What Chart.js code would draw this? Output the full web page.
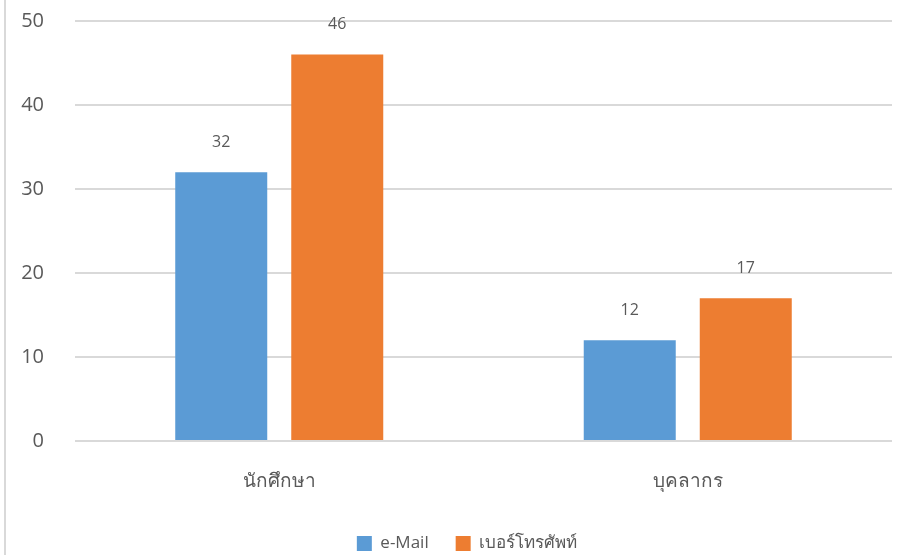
<!DOCTYPE html>
<html>
<head>
<meta charset="utf-8">
<script src="https://cdn.jsdelivr.net/npm/chart.js"></script>
<style>
  html, body { margin: 0; padding: 0; background: #fff; }
  #wrap { position: relative; width: 899px; height: 555px; }
  #edge { position: absolute; left: 4px; top: 0; width: 2px; height: 555px; background: #d9d9d9; }
</style>
</head>
<body>
<div id="wrap">
  <div id="edge"></div>
  <canvas id="myChart" width="899" height="555"></canvas>
</div>

<script>
// -- Chart data
const categories = ['นักศึกษา', 'บุคลากร'];
const email_values = [32, 12];
const phone_values = [46, 17];
const series_names = ['e-Mail', 'เบอร์โทรศัพท์'];
const y_ticks = [0, 10, 20, 30, 40, 50];

const FONT = "'Open Sans', 'Noto Sans', sans-serif";
const TEXT = '#595959';

// -- Value labels above each bar.
const value_labels = {
  id: 'value_labels',
  afterDatasetsDraw(chart) {
    const ctx = chart.ctx;
    ctx.save();
    ctx.font = '16px ' + FONT;
    ctx.fillStyle = TEXT;
    ctx.textAlign = 'center';
    ctx.textBaseline = 'middle';
    chart.data.datasets.forEach((ds, i) => {
      chart.getDatasetMeta(i).data.forEach((bar, j) => {
        ctx.fillText(ds.data[j], bar.x, bar.y - 30);
      });
    });
    ctx.restore();
  }
};

// -- Nudge the legend a bit lower and to the right, like the original.
const legend_nudge = {
  id: 'legend_nudge',
  afterLayout(chart) {
    const l = chart.legend;
    l.top += 7; l.bottom += 7;
    l.left += 21; l.right += 21;
  }
};

const chart = new Chart(
  document.getElementById('myChart'),
  {
    type: 'bar',
    data: {
      labels: categories,
      datasets: [
        { label: series_names[0], data: email_values, backgroundColor: '#5b9bd5' },
        { label: series_names[1], data: phone_values, backgroundColor: '#ed7d31' },
      ],
    },
    options: {
      responsive: false,
      animation: false,
      categoryPercentage: 0.568,
      barPercentage: 0.793,
      layout: { padding: { left: 0, right: 7, top: 21, bottom: 0 } },
      scales: {
        x: {
          grid: { display: false },
          border: { display: false },
          ticks: { color: TEXT, font: { family: FONT, size: 19 }, padding: 21 },
          afterFit: (scale) => { scale.height = 60; },
        },
        y: {
          min: 0,
          max: 50,
          afterBuildTicks: (scale) => { scale.ticks = y_ticks.map(v => ({ value: v })); },
          grid: { color: '#d9d9d9', lineWidth: 2, drawTicks: false },
          border: { display: false },
          ticks: { color: TEXT, font: { family: FONT, size: 20 }, padding: 31 },
          afterFit: (scale) => {
            scale.width = 75;
            scale.paddingTop = 0;
            scale.paddingBottom = 0;
          },
        }
      },
      plugins: {
        legend: {
          position: 'bottom',
          labels: {
            color: TEXT,
            font: { family: FONT, size: 17 },
            boxWidth: 15,
            boxHeight: 15,
            padding: 27,
          }
        },
        tooltip: { enabled: false },
      }
    },
    plugins: [value_labels, legend_nudge],
  }
);
</script>
</body>
</html>
